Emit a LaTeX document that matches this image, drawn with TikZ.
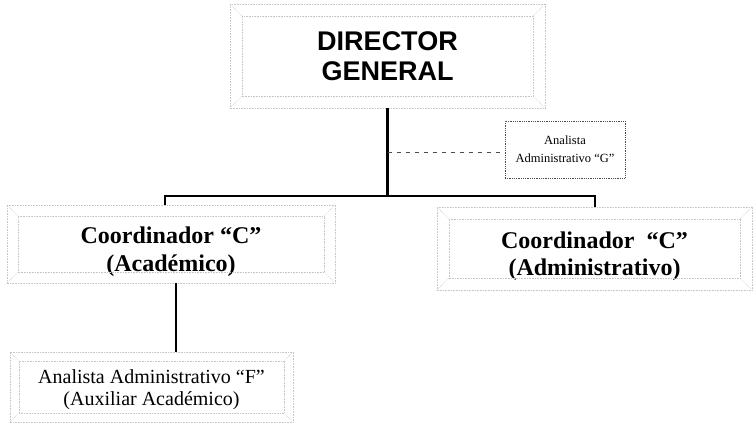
\documentclass[tikz,border=0pt]{standalone}
\usepackage{fontspec}
\setmainfont{Liberation Serif}
\newfontfamily\headfont{Liberation Sans}
\begin{document}
\begin{tikzpicture}[x=1pt,y=-1pt,
  bevline/.style={draw=gray!45,densely dotted,line width=0.6pt},
  boxnode/.style={inner sep=0pt,align=center},
  conn/.style={draw=black,line width=2.6pt},
  dashconn/.style={draw=black!70,dashed,line width=0.7pt,dash pattern=on 4pt off 5pt},
  plainbox/.style={draw=black!70,densely dotted,line width=0.8pt}]
\useasboundingbox (0,0) rectangle (754,424);
% boxes
\node[boxnode,minimum width=315,minimum height=104,
  font=\headfont\bfseries\fontsize{27}{30}\selectfont] (dir) at (387.5,56)
  {DIRECTOR\\GENERAL};
\node[boxnode,plainbox,minimum width=120,minimum height=57,
  font=\fontsize{12.5}{18}\selectfont] (ag) at (565,149.5)
  {Analista\\Administrativo ``G''};
\node[boxnode,minimum width=328,minimum height=78,
  font=\bfseries\fontsize{24}{28}\selectfont] (ca) at (171,244)
  {\rule{0pt}{32pt}Coordinador ``C''\\(Académico)};
\node[boxnode,minimum width=315,minimum height=83,
  font=\bfseries\fontsize{24}{27}\selectfont] (cd) at (594.5,248.5)
  {\rule{0pt}{32pt}Coordinador\ \ ``C''\\(Administrativo)};
\node[boxnode,minimum width=283,minimum height=70,
  font=\fontsize{20}{22}\selectfont] (af) at (151.5,387)
  {\rule{0pt}{20pt}Analista Administrativo ``F''\\(Auxiliar Académico)};
% bevel outlines
\foreach \n/\d in {dir/12,ca/11,cd/12,af/9}{
  \draw[bevline] (\n.north west) rectangle (\n.south east);
  \draw[bevline] ([shift={(\d,\d)}]\n.north west) rectangle ([shift={(-\d,-\d)}]\n.south east);
  \draw[bevline] (\n.north west) -- ([shift={(\d,\d)}]\n.north west);
  \draw[bevline] (\n.north east) -- ([shift={(-\d,\d)}]\n.north east);
  \draw[bevline] (\n.south west) -- ([shift={(\d,-\d)}]\n.south west);
  \draw[bevline] (\n.south east) -- ([shift={(-\d,-\d)}]\n.south east);
}
% connectors
\coordinate (hM) at (387.5,196);
\coordinate (hL) at (165,196);
\coordinate (hR) at (595,196);
\draw[conn] (dir.south) -- (hM);
\draw[conn,line cap=rect] (hL) -- (hR);
\draw[conn] (hL) -- (hL |- ca.north);
\draw[conn] (hR) -- (hR |- cd.north);
\draw[dashconn] (dir.south |- 0,152) -- (ag.west |- 0,152);
\draw[conn] ([xshift=5]ca.south) -- ([xshift=5]ca.south |- af.north);
\end{tikzpicture}
\end{document}
